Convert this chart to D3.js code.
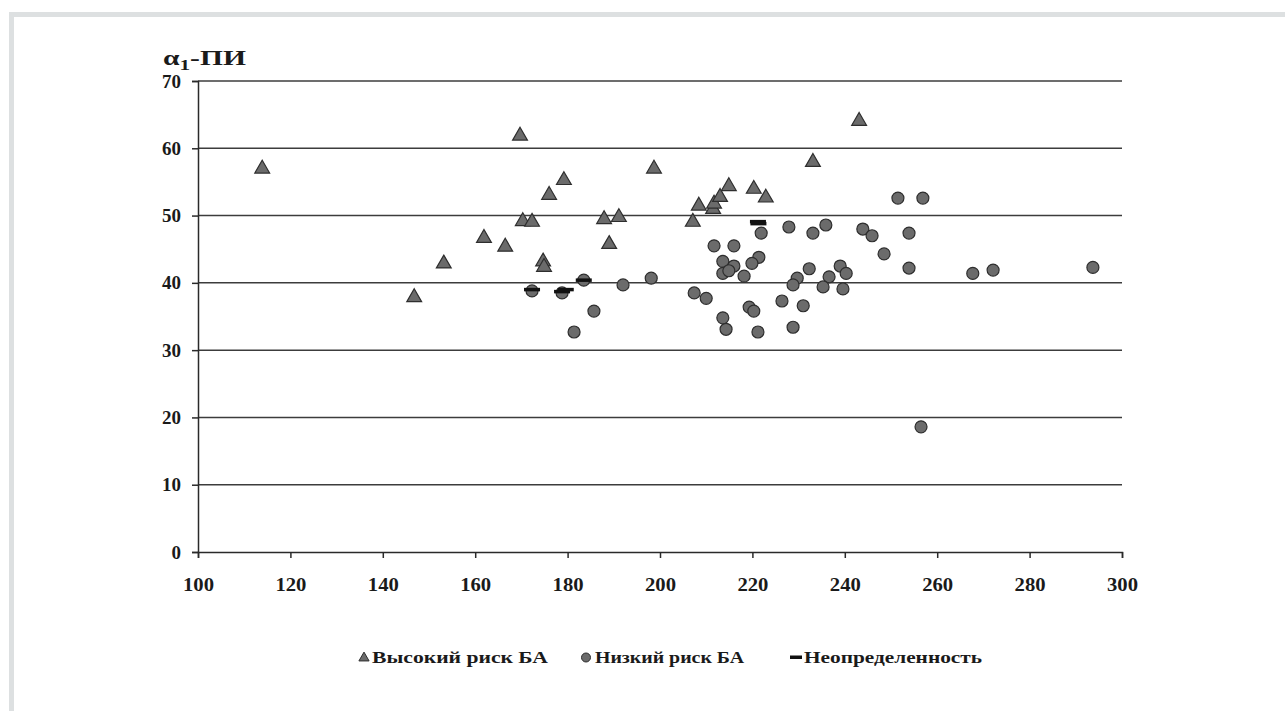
<!DOCTYPE html>
<html>
<head>
<meta charset="utf-8">
<script src="https://cdn.jsdelivr.net/npm/d3@7"></script>
<style>
  body { margin: 0; background: #fff; }
  svg { display: block; }
  .serif { font-family: "Liberation Serif", "DejaVu Serif", serif; font-weight: bold; fill: #1a1a1a; }
</style>
</head>
<body>
<div id="chart"></div>
<script>
// high risk (triangles): [x, y]
var highRisk = [
  [113.9, 57.1], [146.8, 38.0], [153.2, 43.0], [161.9, 46.8], [166.5, 45.5],
  [169.7, 62.0], [170.3, 49.3], [172.3, 49.2], [174.7, 43.3], [174.9, 42.5],
  [176.0, 53.2], [179.2, 55.4], [187.9, 49.6], [189.0, 45.9], [191.1, 49.9],
  [198.7, 57.1], [207.1, 49.2], [208.4, 51.6], [211.5, 51.1], [211.7, 51.9],
  [213.0, 52.9], [214.9, 54.5], [220.3, 54.1], [222.9, 52.8], [233.1, 58.1],
  [243.1, 64.2]
];
// low risk (circles)
var lowRisk = [
  [172.3, 38.8], [178.8, 38.5], [183.5, 40.4], [192.0, 39.7], [198.1, 40.7],
  [185.7, 35.8], [181.4, 32.7], [221.9, 47.4], [227.9, 48.3], [233.1, 47.4],
  [235.9, 48.6], [243.9, 48.0], [245.9, 47.0], [253.9, 47.4], [251.5, 52.6],
  [256.9, 52.6], [211.7, 45.5], [216.0, 45.5], [248.5, 44.3], [213.6, 43.2],
  [221.4, 43.8], [219.9, 42.9], [216.0, 42.5], [213.6, 41.4], [214.9, 41.8],
  [218.2, 41.0], [232.3, 42.1], [239.0, 42.5], [240.3, 41.4], [236.6, 40.9],
  [253.9, 42.2], [229.7, 40.7], [228.8, 39.7], [235.3, 39.4], [239.6, 39.1],
  [207.4, 38.5], [210.0, 37.7], [226.4, 37.3], [231.0, 36.6], [219.3, 36.4],
  [220.3, 35.8], [213.6, 34.8], [214.3, 33.1], [221.2, 32.7], [228.8, 33.4],
  [267.7, 41.4], [272.1, 41.9], [293.7, 42.3], [256.5, 18.6]
];
// uncertain (dashes)
var uncertain = [
  [172.3, 39.0], [178.8, 38.7], [179.6, 39.0], [183.5, 40.4], [221.2, 49.1], [221.3, 48.8]
];
var xTicks = [100, 120, 140, 160, 180, 200, 220, 240, 260, 280, 300];
var yTicks = [0, 10, 20, 30, 40, 50, 60, 70];
var legendLabels = ["Высокий риск БА", "Низкий риск БА", "Неопределенность"];

var W = 1285, H = 711;
var svg = d3.select("#chart").append("svg")
  .attr("width", W).attr("height", H);

// grey frame
svg.append("rect").attr("x", 9).attr("y", 12).attr("width", W).attr("height", 5).attr("fill", "#dde0e1");
svg.append("rect").attr("x", 9).attr("y", 12).attr("width", 5).attr("height", H).attr("fill", "#dde0e1");

var x = d3.scaleLinear().domain([100, 300]).range([198, 1122]);
var y = d3.scaleLinear().domain([0, 70]).range([552, 81]);

var markFill = "#6b6b6b", markStroke = "#2e2e2e";

// gridlines
svg.append("g").selectAll("line").data(yTicks.filter(d => d > 0)).enter().append("line")
  .attr("x1", x(100)).attr("x2", x(300))
  .attr("y1", d => y(d)).attr("y2", d => y(d))
  .attr("stroke", "#3c3c3c").attr("stroke-width", 1.5);

// y axis
var yAxis = svg.append("g").attr("transform", "translate(" + x(100) + ",0)")
  .call(d3.axisLeft(y).tickValues(yTicks).tickSize(6).tickPadding(11));
// x axis
var xAxis = svg.append("g").attr("transform", "translate(0," + y(0) + ")")
  .call(d3.axisBottom(x).tickValues(xTicks).tickSize(6).tickPadding(20));

[yAxis, xAxis].forEach(function (ax) {
  ax.attr("font-family", null).attr("font-size", null);
  ax.select(".domain").attr("stroke", "#2a2a2a").attr("stroke-width", 1.5);
  ax.selectAll(".tick line").attr("stroke", "#2a2a2a").attr("stroke-width", 1.5);
  ax.selectAll("text").attr("class", "serif").attr("fill", null)
    .style("font-size", "19px");
});
xAxis.selectAll("text").attr("textLength", 31).attr("lengthAdjust", "spacingAndGlyphs");

// y label
var ylab = svg.append("text").attr("class", "serif").attr("x", 163).attr("y", 65)
  .style("font-size", "21px")
  .attr("textLength", 83).attr("lengthAdjust", "spacingAndGlyphs");
ylab.append("tspan").text("α");
ylab.append("tspan").attr("dy", 5).style("font-size", "15px").text("1");
ylab.append("tspan").attr("dy", -5).text("-ПИ");

var tri = d3.symbol().type(d3.symbolTriangle).size(95);
var pts = svg.append("g");

pts.selectAll("path.tri").data(highRisk).enter().append("path")
  .attr("class", "tri")
  .attr("d", tri)
  .attr("transform", d => "translate(" + x(d[0]) + "," + (y(d[1]) + 1) + ")")
  .attr("fill", markFill).attr("stroke", markStroke).attr("stroke-width", 1.2);

pts.selectAll("circle").data(lowRisk).enter().append("circle")
  .attr("cx", d => x(d[0])).attr("cy", d => y(d[1])).attr("r", 6)
  .attr("fill", markFill).attr("stroke", markStroke).attr("stroke-width", 1.2);

pts.selectAll("rect.dash").data(uncertain).enter().append("rect")
  .attr("class", "dash")
  .attr("x", d => x(d[0]) - 8).attr("y", d => y(d[1]) - 1.75)
  .attr("width", 16).attr("height", 3.5).attr("fill", "#111");

// legend
var lg = svg.append("g").attr("transform", "translate(0,657)");
var items = [
  { sx: 364, tx: 372, w: 176, kind: "tri" },
  { sx: 586, tx: 595, w: 149, kind: "circle" },
  { sx: 796, tx: 804, w: 178, kind: "dash" }
];
items.forEach(function (it, i) {
  if (it.kind === "tri") {
    lg.append("path").attr("d", d3.symbol().type(d3.symbolTriangle).size(45))
      .attr("transform", "translate(" + it.sx + ",1)")
      .attr("fill", markFill).attr("stroke", markStroke).attr("stroke-width", 1);
  } else if (it.kind === "circle") {
    lg.append("circle").attr("cx", it.sx).attr("cy", 0.5).attr("r", 4.5)
      .attr("fill", markFill).attr("stroke", markStroke).attr("stroke-width", 1);
  } else {
    lg.append("rect").attr("x", it.sx - 6).attr("y", -1.5).attr("width", 12).attr("height", 3.5).attr("fill", "#111");
  }
  lg.append("text").attr("class", "serif").attr("x", it.tx).attr("y", 6)
    .style("font-size", "17px")
    .attr("textLength", it.w).attr("lengthAdjust", "spacingAndGlyphs")
    .text(legendLabels[i]);
});
</script>
</body>
</html>
